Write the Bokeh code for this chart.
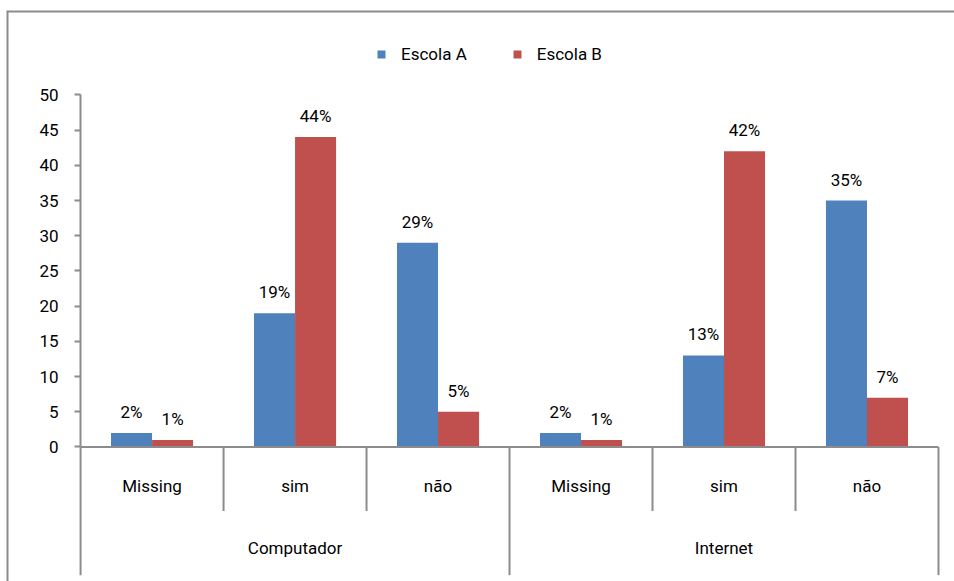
from bokeh.plotting import figure
from bokeh.models import (Range1d, ColumnDataSource, FixedTicker,
                          Legend, LegendItem, Span)
from bokeh.transform import dodge
from bokeh.core.properties import value
from bokeh.embed import file_html
from bokeh.resources import INLINE

# --- data -------------------------------------------------------------
groups = ["Computador", "Internet"]
answers = ["Missing", "sim", "não"]
escola_a = [2, 19, 29, 2, 13, 35]
escola_b = [1, 44, 5, 1, 42, 7]
series_names = ["Escola A", "Escola B"]
y_ticks = [0, 5, 10, 15, 20, 25, 30, 35, 40, 45, 50]

# --- styling ----------------------------------------------------------
FONT = "Roboto"
FS = "17px"
BLUE = "#4F81BD"
RED = "#C0504D"
GREY = "#8C8C8C"
BAR_W = 0.287
X_START, X_END = -0.518, 6.112      # room for the y axis labels on the left
Y_START, Y_END = -19.1, 61.98       # room for the category rows and legend
SUB_LABEL_Y = -5.5
GROUP_LABEL_Y = -14.4
SUB_SEP_Y = -9.1
GROUP_SEP_Y = -18.2

n_sub = len(answers)
labels_sub = [a for g in groups for a in answers]
centers = [i + 0.5 for i in range(len(labels_sub))]
group_centers = [gi * n_sub + n_sub / 2 for gi in range(len(groups))]

src = ColumnDataSource(dict(
    x=centers,
    a=escola_a,
    b=escola_b,
    la=[f"{v}%" for v in escola_a],
    lb=[f"{v}%" for v in escola_b],
    sub=labels_sub,
))

# separators between categories (longer ones between the two groups)
edges = list(range(len(labels_sub) + 1))
sep = ColumnDataSource(dict(
    x=edges,
    y0=[0] * len(edges),
    y1=[GROUP_SEP_Y if e % n_sub == 0 else SUB_SEP_Y for e in edges],
))

p = figure(width=954, height=581,
           x_range=Range1d(X_START, X_END),
           y_range=Range1d(Y_START, Y_END),
           x_axis_location=None, toolbar_location=None,
           output_backend="svg",
           min_border_left=6, min_border_right=0,
           min_border_top=10, min_border_bottom=0)
p.outline_line_color = None
p.grid.visible = False

# chart border (top and left edges of the frame)
p.add_layout(Span(location=X_START, dimension="height", line_color=GREY, line_width=4))
p.add_layout(Span(location=Y_END, dimension="width", line_color=GREY, line_width=4))

# bars
ra = p.vbar(x=dodge("x", -BAR_W / 2), top="a", width=BAR_W,
            source=src, fill_color=BLUE, line_color=None)
rb = p.vbar(x=dodge("x", BAR_W / 2), top="b", width=BAR_W,
            source=src, fill_color=RED, line_color=None)

# value labels above bars
for col, ycol, off in (("la", "a", -BAR_W / 2), ("lb", "b", BAR_W / 2)):
    p.text(x=dodge("x", off), y=ycol, text=col, source=src,
           text_align="center", text_baseline="alphabetic", y_offset=-21,
           text_font=value(FONT), text_font_size=FS, text_color="#000000")

# zero line and category separators
p.segment(x0=[0], y0=[0], x1=[len(labels_sub)], y1=[0],
          line_color=GREY, line_width=2)
p.segment(x0="x", y0="y0", x1="x", y1="y1", source=sep,
          line_color=GREY, line_width=2)

# category labels
p.text(x="x", y=SUB_LABEL_Y, text="sub", source=src,
       text_align="center", text_baseline="alphabetic",
       text_font=value(FONT), text_font_size=FS, text_color="#000000")
p.text(x=group_centers, y=[GROUP_LABEL_Y] * len(groups), text=groups,
       text_align="center", text_baseline="alphabetic",
       text_font=value(FONT), text_font_size=FS, text_color="#000000")

# y axis, pinned at the left edge of the first category
ax = p.yaxis[0]
ax.fixed_location = 0
ax.bounds = (0, max(y_ticks))
ax.ticker = FixedTicker(ticks=y_ticks)
ax.axis_line_color = GREY
ax.axis_line_width = 2
ax.major_tick_line_color = GREY
ax.major_tick_line_width = 2
ax.major_tick_out = 6
ax.major_tick_in = 0
ax.minor_tick_line_color = None
ax.major_label_standoff = 16
ax.major_label_text_font = FONT
ax.major_label_text_font_size = FS
ax.major_label_text_color = "#000000"

# legend
legend = Legend(items=[LegendItem(label=series_names[0], renderers=[ra]),
                       LegendItem(label=series_names[1], renderers=[rb])],
                orientation="horizontal", location=(370, 517),
                glyph_width=10, glyph_height=10, label_standoff=15,
                spacing=45, padding=0, margin=0,
                border_line_color=None, background_fill_alpha=0,
                label_text_font=FONT, label_text_font_size=FS,
                label_text_color="#000000")
p.add_layout(legend, "center")

open("out.html", "w").write(file_html(p, INLINE))
